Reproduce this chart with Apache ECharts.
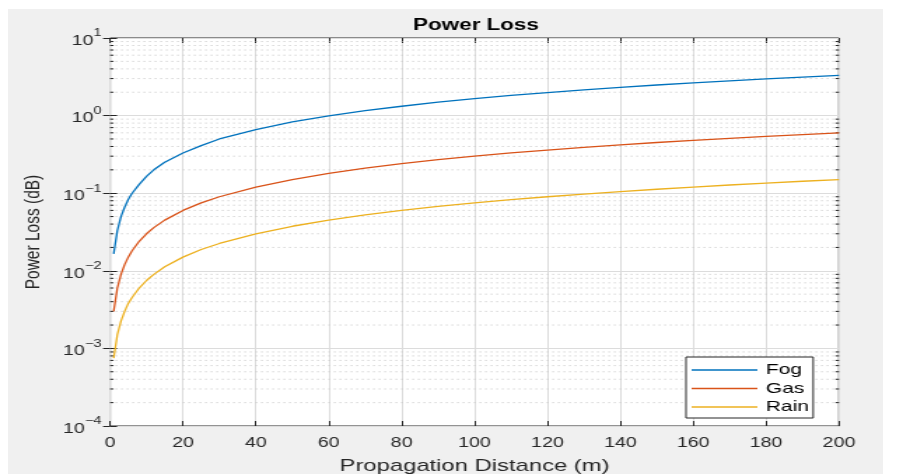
<!DOCTYPE html>
<html>
<head>
<meta charset="utf-8">
<title>Power Loss</title>
<script src="https://cdn.jsdelivr.net/npm/echarts@6/dist/echarts.min.js"></script>
<style>
  html, body { margin: 0; padding: 0; background: #fff; }
  /* grey figure area like the MATLAB window */
  #fig { position: absolute; left: 8px; top: 9px; width: 875px; height: 465px; background: #f0f0f0; }
  /* the picture is stretched sideways, so draw narrow and scale */
  #chart { position: absolute; left: 0; top: 0; width: 645px; height: 474px;
           transform: scaleX(1.4); transform-origin: 0 0; }
</style>
</head>
<body>
<div id="fig"></div>
<div id="chart"></div>
<script>
// distance (m)
const distances = [1, 2, 3, 4, 5, 6, 8, 10, 12, 15, 20, 25, 30, 40, 50, 60, 70, 80, 90, 100,
                   110, 120, 130, 140, 150, 160, 170, 180, 190, 200];
// power loss (dB)
const fogLoss = [0.0165, 0.033, 0.05, 0.066, 0.083, 0.099, 0.13, 0.165, 0.2, 0.25, 0.33, 0.41, 0.5,
                 0.66, 0.83, 0.99, 1.16, 1.32, 1.49, 1.65, 1.82, 1.98, 2.15, 2.31, 2.48, 2.64, 2.8,
                 2.97, 3.14, 3.3];
const gasLoss = [0.003, 0.006, 0.009, 0.012, 0.015, 0.018, 0.024, 0.03, 0.036, 0.045, 0.06, 0.075,
                 0.09, 0.12, 0.15, 0.18, 0.21, 0.24, 0.27, 0.3, 0.33, 0.36, 0.39, 0.42, 0.45, 0.48,
                 0.51, 0.54, 0.57, 0.6];
const rainLoss = [0.00075, 0.0015, 0.00225, 0.003, 0.0038, 0.0045, 0.006, 0.0075, 0.009, 0.0113,
                  0.015, 0.0188, 0.0225, 0.03, 0.0375, 0.045, 0.0525, 0.06, 0.0675, 0.075, 0.0825,
                  0.09, 0.0975, 0.105, 0.1125, 0.12, 0.1275, 0.135, 0.1425, 0.15];
const seriesNames = ['Fog', 'Gas', 'Rain'];
// minor grid lines of the log axis
const minorTicks = [];
[-4, -3, -2, -1, 0].forEach(e => {
  [2, 3, 4, 5, 6, 7, 8, 9].forEach(m => minorTicks.push(m * Math.pow(10, e)));
});

const font = '"Liberation Sans", Arial, sans-serif';
const textColor = '#262626';

function pairs(ys) {
  return distances.map((x, i) => [x, ys[i]]);
}

function supLabel(value) {
  const e = Math.round(Math.log10(value));
  const s = e < 0 ? '\u2212' + (-e) : String(e);
  return '{b|10}{e|' + s + '}';
}

// dotted horizontal line across the plot, plus small ticks at both sides
function renderMinor(params, api) {
  const v = api.value(1);
  const a = api.coord([0, v]);
  const b = api.coord([200, v]);
  return {
    type: 'group',
    children: [
      { type: 'line', shape: { x1: a[0], y1: a[1], x2: b[0], y2: b[1] },
        style: { stroke: '#c4c4c4', lineWidth: 1, lineDash: [1, 3] } },
      { type: 'line', shape: { x1: a[0], y1: a[1], x2: a[0] + 2.5, y2: a[1] },
        style: { stroke: '#262626', lineWidth: 1 } },
      { type: 'line', shape: { x1: b[0] - 2.5, y1: b[1], x2: b[0], y2: b[1] },
        style: { stroke: '#262626', lineWidth: 1 } }
    ]
  };
}

const chart = echarts.init(document.getElementById('chart'));

const option = {
  animation: false,
  backgroundColor: 'transparent',
  title: {
    text: 'Power Loss',
    left: 335,
    textAlign: 'center',
    top: 13,
    textStyle: { fontFamily: font, fontSize: 16, fontWeight: 'bold', color: '#000' }
  },
  legend: {
    data: seriesNames,
    orient: 'vertical',
    left: 490,
    top: 357,
    icon: 'rect',
    itemWidth: 47,
    itemHeight: 1.5,
    itemGap: 2.5,
    padding: [5, 3, 3, 4],
    backgroundColor: '#fff',
    borderColor: '#262626',
    borderWidth: 1,
    borderRadius: 0,
    itemStyle: { borderWidth: 0 },
    textStyle: { fontFamily: font, fontSize: 15, color: '#000', lineHeight: 16, padding: [0, 0, 0, 1] }
  },
  grid: {
    left: 78.6, right: 45.7, top: 38, bottom: 48,
    outerBoundsMode: 'none',
    containLabel: false,
    show: true, backgroundColor: '#fff', borderColor: '#262626', borderWidth: 1
  },
  xAxis: [
    {
      type: 'value',
      min: 0, max: 200, interval: 20,
      name: 'Propagation Distance (m)',
      nameLocation: 'middle',
      nameGap: 32,
      nameTextStyle: { fontFamily: font, fontSize: 17, color: textColor },
      axisLine: { show: false },
      axisTick: { inside: true, length: 5, lineStyle: { color: '#262626' } },
      axisLabel: { fontFamily: font, fontSize: 14, color: textColor, margin: 10 },
      splitLine: { show: true, lineStyle: { color: '#dcdcdc', width: 1 } }
    },
    {
      type: 'value', position: 'top',
      min: 0, max: 200, interval: 20,
      axisLine: { show: false },
      axisTick: { inside: true, length: 5, lineStyle: { color: '#262626' } },
      axisLabel: { show: false },
      splitLine: { show: false }
    }
  ],
  yAxis: [
    {
      type: 'log',
      logBase: 10,
      min: 0.0001, max: 10,
      name: 'Power Loss (dB)',
      nameLocation: 'middle',
      nameGap: 47,
      nameTextStyle: { fontFamily: font, fontSize: 15.5, color: textColor },
      axisLine: { show: false },
      axisTick: { inside: true, length: 5, lineStyle: { color: '#262626' } },
      axisLabel: {
        margin: 6,
        formatter: supLabel,
        rich: {
          b: { fontFamily: font, fontSize: 14, color: textColor, lineHeight: 20, verticalAlign: 'bottom' },
          e: { fontFamily: font, fontSize: 10.5, color: textColor, lineHeight: 20, verticalAlign: 'top' }
        }
      },
      splitLine: { show: true, lineStyle: { color: '#dcdcdc', width: 1 } }
    },
    {
      type: 'log',
      logBase: 10,
      min: 0.0001, max: 10,
      position: 'right',
      axisLine: { show: false },
      axisTick: { inside: true, length: 5, lineStyle: { color: '#262626' } },
      axisLabel: { show: false },
      splitLine: { show: false }
    }
  ],
  series: [
    {
      name: 'minor',
      type: 'custom',
      renderItem: renderMinor,
      data: minorTicks.map(v => [0, v]),
      encode: { x: 0, y: 1 },
      z: 1,
      silent: true,
      clip: true
    },
    {
      name: seriesNames[0], type: 'line', data: pairs(fogLoss),
      showSymbol: false, z: 3,
      color: '#0072BD', lineStyle: { width: 1.3, color: '#0072BD' }
    },
    {
      name: seriesNames[1], type: 'line', data: pairs(gasLoss),
      showSymbol: false, z: 3,
      color: '#D95319', lineStyle: { width: 1.3, color: '#D95319' }
    },
    {
      name: seriesNames[2], type: 'line', data: pairs(rainLoss),
      showSymbol: false, z: 3,
      color: '#EDB120', lineStyle: { width: 1.3, color: '#EDB120' }
    }
  ]
};

chart.setOption(option);
</script>
</body>
</html>
